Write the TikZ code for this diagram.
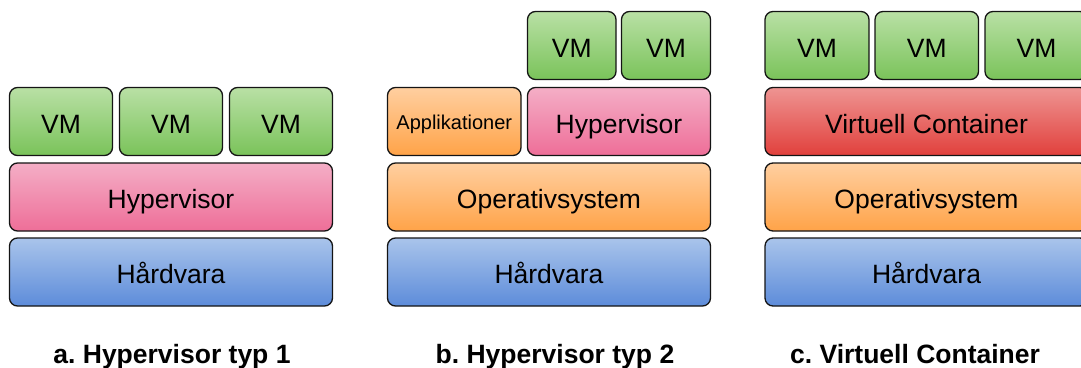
\documentclass[tikz,border=0pt]{standalone}
\usepackage{fontspec}
\setmainfont{Liberation Sans}
\frenchspacing
\definecolor{gtop}{RGB}{185,224,165}
\definecolor{gbot}{RGB}{122,195,90}
\definecolor{ptop}{RGB}{244,174,198}
\definecolor{pbot}{RGB}{238,110,152}
\definecolor{btop}{RGB}{169,196,235}
\definecolor{bbot}{RGB}{93,140,218}
\definecolor{otop}{RGB}{255,207,160}
\definecolor{obot}{RGB}{255,163,72}
\definecolor{rtop}{RGB}{238,148,146}
\definecolor{rbot}{RGB}{225,64,60}
\definecolor{edge}{RGB}{20,20,20}
\begin{document}
\begin{tikzpicture}[x=1pt,y=-1pt,
  box/.style={draw=edge, rounded corners=8pt, line width=1.3pt, minimum height=68pt, inner sep=0pt,
    font=\fontsize{26.5}{30}\selectfont, text=black, text height=23pt, text depth=0pt},
  vmbox/.style={box, top color=gtop, bottom color=gbot},
  hypbox/.style={box, top color=ptop, bottom color=pbot},
  hwbox/.style={box, top color=btop, bottom color=bbot},
  osbox/.style={box, top color=otop, bottom color=obot},
  ctbox/.style={box, top color=rtop, bottom color=rbot},
  caption/.style={anchor=base, inner sep=0pt, font=\fontsize{26.5}{30}\selectfont\bfseries}]
\clip (0,0) rectangle (1081,367);
% panel a
\node[vmbox, minimum width=103pt] (avm1) at (61,121.5) {VM};
\node[vmbox, minimum width=103pt] (avm2) at (171,121.5) {VM};
\node[vmbox, minimum width=103pt] (avm3) at (281,121.5) {VM};
\node[hypbox, minimum width=323pt] (ahyp) at (171,197) {Hypervisor};
\node[hwbox, minimum width=323pt] (ahw) at (171,272) {Hårdvara};
\node[caption] (acap) at (172,363) {a. Hypervisor typ 1};
% panel b
\node[vmbox, minimum width=88.5pt] (bvm1) at (571.75,45.5) {VM};
\node[vmbox, minimum width=89pt] (bvm2) at (666,45.5) {VM};
\node[osbox, minimum width=133.5pt, font=\fontsize{20}{24}\selectfont, text height=16pt] (bapp) at (454.25,121.5) {Applikationer};
\node[hypbox, minimum width=183pt] (bhyp) at (619,121.5) {Hypervisor};
\node[osbox, minimum width=323pt] (bos) at (549,197) {Operativsystem};
\node[hwbox, minimum width=323pt] (bhw) at (549,272) {Hårdvara};
\node[caption] (bcap) at (555,363) {b. Hypervisor typ 2};
% panel c
\node[vmbox, minimum width=104pt] (cvm1) at (817,45.5) {VM};
\node[vmbox, minimum width=103.5pt] (cvm2) at (926.75,45.5) {VM};
\node[vmbox, minimum width=103pt] (cvm3) at (1036.5,45.5) {VM};
\node[ctbox, minimum width=323pt] (cct) at (926.5,121.5) {Virtuell Container};
\node[osbox, minimum width=323pt] (cos) at (926.5,197) {Operativsystem};
\node[hwbox, minimum width=323pt] (chw) at (926.5,272) {Hårdvara};
\node[caption] (ccap) at (915,363) {c. Virtuell Container};
\end{tikzpicture}
\end{document}
